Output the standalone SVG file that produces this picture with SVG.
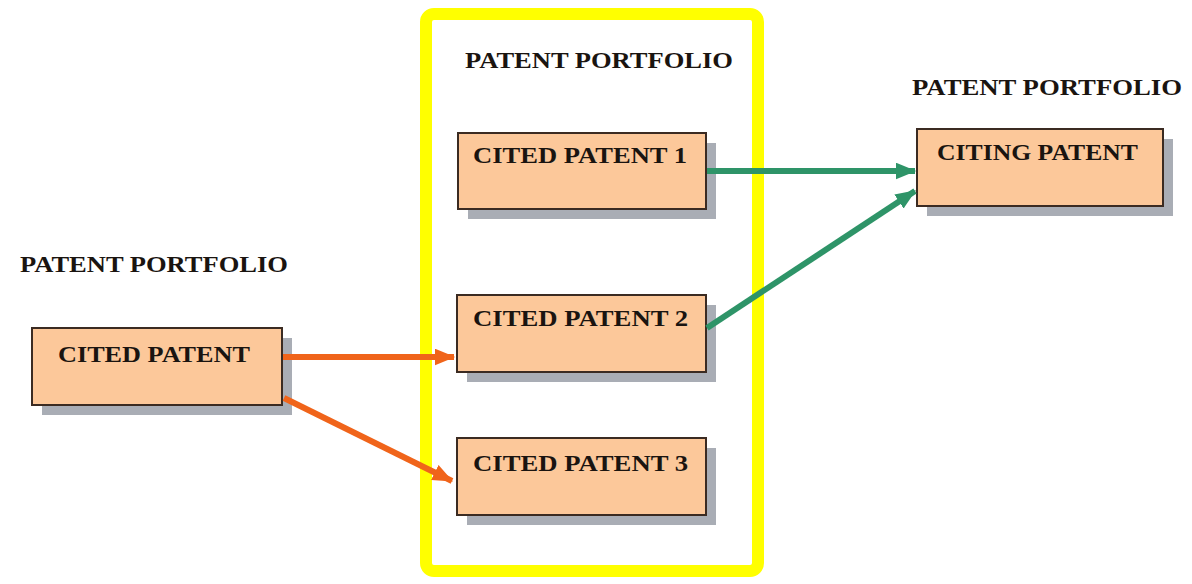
<svg xmlns="http://www.w3.org/2000/svg" width="1192" height="584" viewBox="0 0 1192 584">
<defs>
<style>
.box{fill:#fcc89a;stroke:#3b2b22;stroke-width:2}
.shadow{fill:#a9adb5}
.lbl{font-family:"Liberation Serif","Times New Roman",serif;font-weight:bold;font-size:24px;fill:#1a1410}
.or{stroke:#f0641a;stroke-width:6;fill:none}
.gr{stroke:#2e9468;stroke-width:6;fill:none}
</style>
<marker id="ao" markerWidth="4" markerHeight="3" refX="3.2" refY="1.4" orient="auto" markerUnits="strokeWidth"><path d="M0,0 L3.4,1.4 L0,2.8 Z" fill="#f0641a"/></marker>
<marker id="ag" markerWidth="4" markerHeight="3" refX="3.2" refY="1.4" orient="auto" markerUnits="strokeWidth"><path d="M0,0 L3.4,1.4 L0,2.8 Z" fill="#2e9468"/></marker>
</defs>
<rect width="1192" height="584" fill="#ffffff"/>
<g id="portfolio-frame">
<rect x="426" y="14" width="332" height="557" rx="8" fill="none" stroke="#ffff00" stroke-width="12"/>
<text class="lbl" x="465" y="68" textLength="268" lengthAdjust="spacingAndGlyphs">PATENT PORTFOLIO</text>
</g>
<g id="label-left"><text class="lbl" x="20" y="272" textLength="268" lengthAdjust="spacingAndGlyphs">PATENT PORTFOLIO</text></g>
<g id="label-right"><text class="lbl" x="912" y="95" textLength="270" lengthAdjust="spacingAndGlyphs">PATENT PORTFOLIO</text></g>
<g id="cited-patent">
<rect class="shadow" x="42" y="338" width="250" height="77"/>
<rect class="box" x="32" y="328" width="250" height="77"/>
<text class="lbl" x="58" y="362" textLength="192" lengthAdjust="spacingAndGlyphs">CITED PATENT</text>
</g>
<g id="cited-patent-1">
<rect class="shadow" x="468" y="143" width="248" height="76"/>
<rect class="box" x="458" y="133" width="248" height="76"/>
<text class="lbl" x="473" y="163" textLength="214" lengthAdjust="spacingAndGlyphs">CITED PATENT 1</text>
</g>
<g id="cited-patent-2">
<rect class="shadow" x="467" y="305" width="249" height="77"/>
<rect class="box" x="457" y="295" width="249" height="77"/>
<text class="lbl" x="473" y="326" textLength="215" lengthAdjust="spacingAndGlyphs">CITED PATENT 2</text>
</g>
<g id="cited-patent-3">
<rect class="shadow" x="467" y="448" width="249" height="77"/>
<rect class="box" x="457" y="438" width="249" height="77"/>
<text class="lbl" x="473" y="471" textLength="215" lengthAdjust="spacingAndGlyphs">CITED PATENT 3</text>
</g>
<g id="citing-patent">
<rect class="shadow" x="927" y="139" width="246" height="77"/>
<rect class="box" x="917" y="129" width="246" height="77"/>
<text class="lbl" x="937" y="160" textLength="201" lengthAdjust="spacingAndGlyphs">CITING PATENT</text>
</g>
<g id="connectors">
<line class="or" x1="283" y1="357" x2="454" y2="357" marker-end="url(#ao)"/>
<line class="or" x1="284" y1="398" x2="452" y2="481" marker-end="url(#ao)"/>
<line class="gr" x1="707" y1="171" x2="915" y2="171" marker-end="url(#ag)"/>
<line class="gr" x1="707" y1="328" x2="915" y2="191" marker-end="url(#ag)"/>
</g>
</svg>
